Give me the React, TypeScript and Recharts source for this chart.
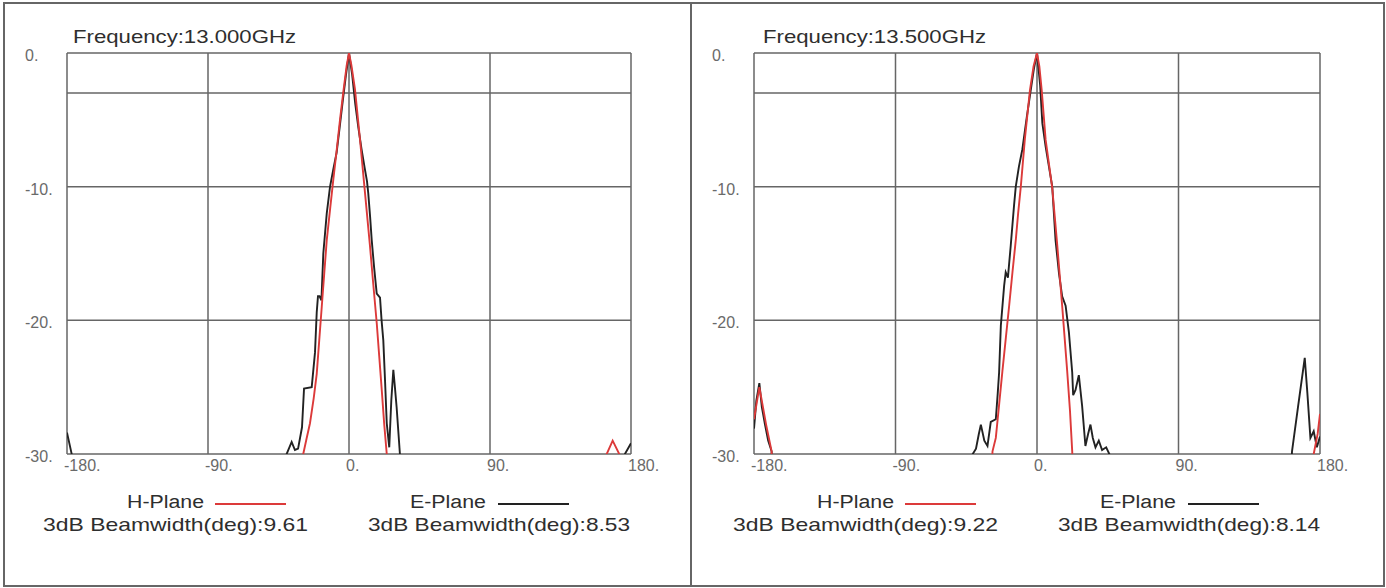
import { LineChart, Line, XAxis, YAxis, CartesianGrid, ReferenceLine } from "recharts";

// [angle deg, level dB]; values below -30 are off the plot floor and get clipped
const h13: [number, number][] = [
  [-180, -40], [-35, -40], [-29.2, -30], [-27, -28.8], [-24.9, -27.7], [-22.5, -25.8], [-20.6, -24],
  [-19, -21.5], [-17.4, -19], [-15.8, -16.5], [-14.2, -14], [-12, -11.6], [-10, -9.45], [-7.8, -7.2],
  [-5.7, -4.95], [-3.5, -2.8], [-1.5, -0.95], [0, 0], [1.5, -0.9], [3.8, -2.7], [7, -6.45],
  [10.2, -10.45], [13.4, -14.45], [15.5, -17.3], [17.7, -20.2], [19.3, -22.7], [20.9, -25.2],
  [22.5, -27.8], [24.1, -30], [30, -40], [160, -40], [164.5, -30], [168.3, -29], [172.5, -30],
  [178, -40], [180, -40],
];
const e13: [number, number][] = [
  [-180, -28.4], [-177, -30], [-175, -40], [-45, -40], [-39.8, -30], [-36.6, -29.1], [-34.5, -29.7],
  [-32.5, -29.6], [-30, -28], [-28.7, -25.1], [-23.8, -25], [-21.7, -22.4], [-20.6, -19.4],
  [-19.8, -18.2], [-18.8, -18.2], [-17.6, -18.5], [-16.4, -15], [-14.2, -12], [-12.1, -10],
  [-10, -8.7], [-7.9, -7.45], [-6, -5.6], [-4, -3.6], [-2, -1.7], [0, 0], [2, -1.6], [4, -3.8],
  [6, -5.6], [8, -7.2], [10, -8.6], [11.5, -9.6], [12.3, -10.5], [13.5, -12.3], [14.5, -14],
  [16, -16], [17.7, -18], [19.8, -18.3], [20.8, -20], [21.9, -21.5], [23, -24.5], [24.1, -27.7],
  [25.7, -29.5], [27, -26], [28.3, -23.7], [29.3, -25], [30.4, -26.5], [32.5, -30], [34, -40],
  [170, -40], [176.1, -30], [180, -29.2],
];
const h135: [number, number][] = [
  [-180, -27.4], [-176.6, -25], [-172.3, -27.8], [-168.8, -29.8], [-166, -40], [-32, -40],
  [-28.3, -29.8], [-26.2, -28.8], [-24, -26.2], [-22, -23.8], [-19.8, -21.3], [-17.7, -18.9],
  [-15.6, -16.4], [-13.5, -14], [-12, -12], [-10.3, -10], [-7.7, -6.4], [-4.5, -2.8], [-2.2, -1],
  [0, 0], [1.5, -1], [3, -2.8], [5.5, -6.5], [9.7, -10.1], [12.9, -14.4], [16, -18.9], [19.2, -23.8],
  [21, -26.8], [22.4, -29.8], [25, -40], [170, -40], [176, -30], [178.5, -28.5], [180, -27],
];
const e135: [number, number][] = [
  [-180, -28.1], [-178.5, -26], [-176.6, -24.7], [-175, -26.5], [-173, -27.8], [-171, -29],
  [-168.8, -29.8], [-166, -40], [-43, -40], [-40.9, -30], [-38.8, -29.6], [-37, -28.5],
  [-35.7, -27.8], [-33.5, -29], [-31.5, -29.4], [-29.4, -27.6], [-26.2, -27.4], [-25, -25.5],
  [-24.1, -23.9], [-23, -20.4], [-20.9, -17.4], [-19.9, -16.4], [-18.5, -16.8], [-16.7, -14.4],
  [-14.6, -11.4], [-13.5, -10], [-11.5, -8.5], [-9.3, -7.2], [-6.5, -4.8], [-4, -2.8], [-2, -1.2],
  [0, 0], [2, -2.4], [3.4, -5.25], [5.5, -7], [7.6, -8.5], [9.7, -10], [11.8, -14], [14, -16.5],
  [16, -18.2], [18.2, -18.9], [20.3, -20.9], [22.4, -23.9], [23, -25.6], [24.5, -25.2],
  [26.6, -24.1], [28.7, -26.4], [30.8, -29.4], [32.5, -28.5], [34, -27.8], [35.5, -28.8],
  [37.2, -29.5], [39.3, -29], [41.4, -29.7], [44, -29.5], [46, -30], [48, -40], [158, -40],
  [162.2, -29.8], [166, -26.5], [170.3, -22.8], [172, -25.5], [173.9, -28.8], [176, -28.3],
  [178, -29.5], [180, -28.7],
];

const xTicks = [-180, -90, 0, 90, 180];
const yTicks = [-30, -20, -10, 0];
const halfPowerLine = -3;

const titles = ["Frequency:13.000GHz", "Frequency:13.500GHz"];
const hBeamwidths = ["9.61", "9.22"];
const eBeamwidths = ["8.53", "8.14"];

const RED = "#dc3a3a";
const BLACK = "#222";
const GRID = "#666";
const FONT = "'Liberation Sans', Arial, sans-serif";

const toPts = (arr: [number, number][]) => arr.map(([x, y]) => ({ x, y }));

function XTick({ x, y, payload }: any) {
  return (
    <text x={x - 3} y={y + 17} fill="#6a6a6a" fontSize={16} fontFamily={FONT}>
      {payload.value}.
    </text>
  );
}

function YTick({ x, y, payload }: any) {
  return (
    <text x={x - 42} y={y + 8} fill="#6a6a6a" fontSize={16} fontFamily={FONT}>
      {payload.value}.
    </text>
  );
}

type PanelProps = {
  left: number;
  width: number;
  title: string;
  h: [number, number][];
  e: [number, number][];
  hbw: string;
  ebw: string;
  mLeft: number;
  mRight: number;
};

function Panel({ left, width, title, h, e, hbw, ebw, mLeft, mRight }: PanelProps) {
  return (
    <div style={{ position: "absolute", left, top: 0, width, height: 588 }}>
      <LineChart width={width} height={500} margin={{ top: 53, right: mRight, left: mLeft, bottom: 16 }}>
        <CartesianGrid stroke={GRID} strokeWidth={1.5} />
        <XAxis
          type="number"
          dataKey="x"
          domain={[-180, 180]}
          ticks={xTicks}
          allowDataOverflow
          axisLine={false}
          tickLine={false}
          tickSize={0}
          tickMargin={0}
          height={30}
          tick={<XTick />}
        />
        <YAxis
          type="number"
          dataKey="y"
          domain={[-30, 0]}
          ticks={yTicks}
          allowDataOverflow
          axisLine={false}
          tickLine={false}
          tickSize={0}
          tickMargin={0}
          width={42}
          tick={<YTick />}
        />
        <ReferenceLine y={halfPowerLine} stroke={GRID} strokeWidth={1.5} />
        <Line data={toPts(e)} dataKey="y" type="linear" stroke={BLACK} strokeWidth={1.9} dot={false} activeDot={false} isAnimationActive={false} />
        <Line data={toPts(h)} dataKey="y" type="linear" stroke={RED} strokeWidth={1.9} dot={false} activeDot={false} isAnimationActive={false} />
      </LineChart>
      <svg width={width} height={588} style={{ position: "absolute", left: 0, top: 0, pointerEvents: "none" }}>
        <g fontFamily={FONT} fill="#2e2e2e">
          <text x={73} y={42.5} fontSize={18.5} textLength={223} lengthAdjust="spacingAndGlyphs">{title}</text>
          <text x={127} y={507.5} fontSize={18} textLength={77} lengthAdjust="spacingAndGlyphs">H-Plane</text>
          <text x={410} y={507.5} fontSize={18} textLength={76} lengthAdjust="spacingAndGlyphs">E-Plane</text>
          <text x={43} y={531} fontSize={18.5} textLength={265} lengthAdjust="spacingAndGlyphs">{`3dB Beamwidth(deg):${hbw}`}</text>
          <text x={368} y={531} fontSize={18.5} textLength={262} lengthAdjust="spacingAndGlyphs">{`3dB Beamwidth(deg):${ebw}`}</text>
        </g>
        <line x1={215} x2={286} y1={504} y2={504} stroke={RED} strokeWidth={2} />
        <line x1={498} x2={569} y1={504} y2={504} stroke={BLACK} strokeWidth={2} />
      </svg>
    </div>
  );
}

export default function App() {
  return (
    <div style={{ position: "absolute", left: 0, top: 0, width: 1386, height: 588, background: "#fff", fontFamily: FONT }}>
      <Panel left={0} width={690} title={titles[0]} h={h13} e={e13} hbw={hBeamwidths[0]} ebw={eBeamwidths[0]} mLeft={25} mRight={59} />
      <Panel left={690} width={696} title={titles[1]} h={h135} e={e135} hbw={hBeamwidths[1]} ebw={eBeamwidths[1]} mLeft={22} mRight={66} />
      <div style={{ position: "absolute", left: 3, top: 2, width: 1378, height: 581, border: "2px solid #666", pointerEvents: "none" }} />
      <div style={{ position: "absolute", left: 690, top: 2, width: 2, height: 585, background: "#666" }} />
    </div>
  );
}
